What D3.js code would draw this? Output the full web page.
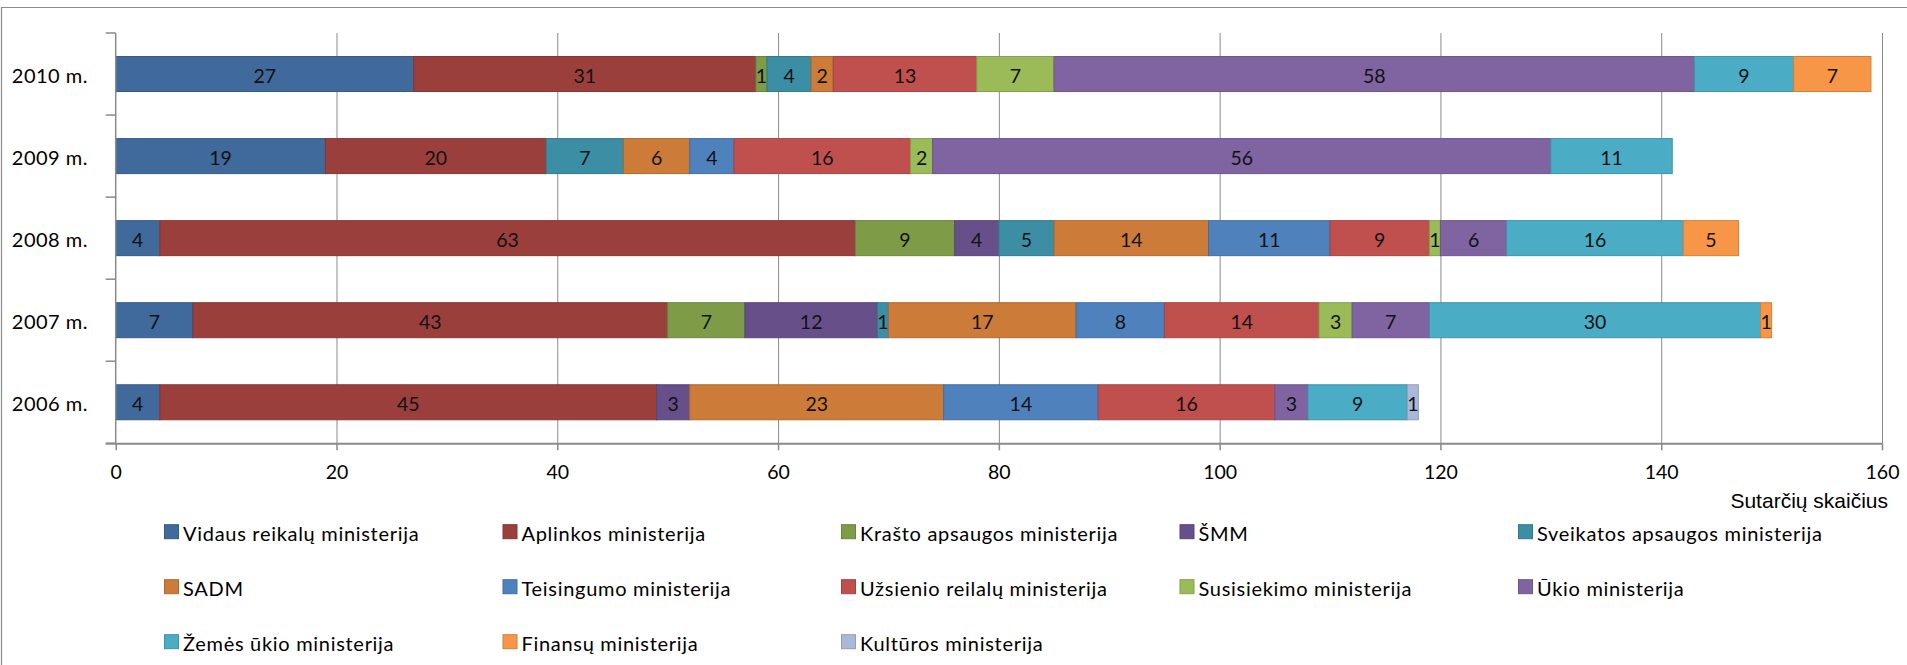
<!DOCTYPE html>
<html>
<head>
<meta charset="utf-8">
<script src="https://cdn.jsdelivr.net/npm/d3@7/dist/d3.min.js"></script>
<style>
  html, body { margin: 0; padding: 0; background: #fff; }
  svg { display: block; }
</style>
</head>
<body>
<svg id="chart" width="1907" height="665"></svg>
<script>
// ---- DATA ----
const categories = ["2010 m.", "2009 m.", "2008 m.", "2007 m.", "2006 m."];
const seriesNames = [
  "Vidaus reikalų ministerija", "Aplinkos ministerija", "Krašto apsaugos ministerija",
  "ŠMM", "Sveikatos apsaugos ministerija", "SADM", "Teisingumo ministerija",
  "Užsienio reilalų ministerija", "Susisiekimo ministerija", "Ūkio ministerija",
  "Žemės ūkio ministerija", "Finansų ministerija", "Kultūros ministerija"
];
// values aligned with categories (2010, 2009, 2008, 2007, 2006)
const vidaus      = [27, 19, 4, 7, 4];
const aplinkos    = [31, 20, 63, 43, 45];
const krasto      = [1, 0, 9, 7, 0];
const smm         = [0, 0, 4, 12, 3];
const sveikatos   = [4, 7, 5, 1, 0];
const sadm        = [2, 6, 14, 17, 23];
const teisingumo  = [0, 4, 11, 8, 14];
const uzsienio    = [13, 16, 9, 14, 16];
const susisiekimo = [7, 2, 1, 3, 0];
const ukio        = [58, 56, 6, 7, 3];
const zemes       = [9, 11, 16, 30, 9];
const finansu     = [7, 0, 5, 1, 0];
const kulturos    = [0, 0, 0, 0, 1];
const seriesValues = [vidaus, aplinkos, krasto, smm, sveikatos, sadm, teisingumo,
                      uzsienio, susisiekimo, ukio, zemes, finansu, kulturos];
const xTicks = [0, 20, 40, 60, 80, 100, 120, 140, 160];
const axisTitle = "Sutarčių skaičius";

// ---- STYLE ----
const colors = ["#40699C", "#9B3F3D", "#7E9C48", "#67508A", "#3C8EA5", "#CD7B38",
                "#4F81BD", "#C0504D", "#9BBB59", "#8064A2", "#4BACC6", "#F79646", "#AAB9D8"];
const FONT = "Lato, 'Open Sans', sans-serif";
const gridColor = "#8a8a8a";

const svg = d3.select("#chart");
const W = 1907, H = 665;
svg.append("rect").attr("width", W).attr("height", H).attr("fill", "#fff");

// chart border (top + left visible)
svg.append("path").attr("d", `M1.5,${H} V7.5 H${W}`)
  .attr("fill", "none").attr("stroke", "#8c8c8c").attr("stroke-width", 1.2);

const plot = { left: 115.7, right: 1882, top: 33, bottom: 443.3 };

const x = d3.scaleLinear().domain([0, 160]).range([plot.left, plot.right]);
const bandPad = 1 - 35 / ((plot.bottom - plot.top) / categories.length);
const y = d3.scaleBand().domain(categories).range([plot.top, plot.bottom])
  .paddingInner(bandPad).paddingOuter(bandPad / 2);

// gridlines
svg.append("g").selectAll("line").data(xTicks.slice(1)).join("line")
  .attr("x1", d => x(d) + 0.5).attr("x2", d => x(d) + 0.5)
  .attr("y1", plot.top).attr("y2", plot.bottom)
  .attr("stroke", gridColor).attr("stroke-width", 1);

// stacked data
const table = categories.map((c, i) => {
  const o = { cat: c };
  seriesNames.forEach((s, j) => o[s] = seriesValues[j][i]);
  return o;
});
const stacked = d3.stack().keys(seriesNames)(table);

const gBars = svg.append("g");
stacked.forEach((layer, j) => {
  const col = colors[j];
  const g = gBars.append("g");
  g.selectAll("rect").data(layer.filter(d => d[1] - d[0] > 0)).join("rect")
    .attr("x", d => x(d[0]))
    .attr("y", d => y(d.data.cat))
    .attr("width", d => x(d[1]) - x(d[0]))
    .attr("height", y.bandwidth())
    .attr("fill", col)
    .attr("stroke", d3.color(col).darker(0.45))
    .attr("stroke-width", 1);
  g.selectAll("text").data(layer.filter(d => d[1] - d[0] > 0)).join("text")
    .attr("x", d => (x(d[0]) + x(d[1])) / 2)
    .attr("y", d => y(d.data.cat) + y.bandwidth() / 2 + 1)
    .attr("text-anchor", "middle")
    .attr("dominant-baseline", "central")
    .attr("font-family", FONT).attr("font-size", 19.5)
    .attr("fill", "#111")
    .text(d => d[1] - d[0]);
});

// y axis line
svg.append("line")
  .attr("x1", plot.left).attr("x2", plot.left)
  .attr("y1", plot.top).attr("y2", plot.bottom)
  .attr("stroke", gridColor).attr("stroke-width", 1.5);

// category tick marks (band boundaries)
const bounds = categories.map(c => y(c) - (y.step() - y.bandwidth()) / 2).concat([plot.bottom]);
svg.append("g").selectAll("line").data(bounds).join("line")
  .attr("x1", plot.left - 10).attr("x2", plot.left)
  .attr("y1", d => d).attr("y2", d => d)
  .attr("stroke", gridColor).attr("stroke-width", 1.5);

// category labels
svg.append("g").selectAll("text").data(categories).join("text")
  .attr("x", 88).attr("y", d => y(d) + y.bandwidth() / 2 + 1)
  .attr("text-anchor", "end").attr("dominant-baseline", "central")
  .attr("font-family", FONT).attr("font-size", 20).attr("letter-spacing", 0.5).attr("fill", "#000")
  .text(d => d);

// x axis
const xAxis = d3.axisBottom(x).tickValues(xTicks).tickSize(7).tickSizeOuter(0).tickPadding(14);
const gx = svg.append("g").attr("transform", `translate(0,${plot.bottom})`).call(xAxis);
gx.select(".domain").attr("stroke", gridColor).attr("stroke-width", 2)
  .attr("d", `M${plot.left - 10},0.5H${plot.right}`);
gx.selectAll(".tick line").attr("stroke", gridColor).attr("stroke-width", 1.5);
gx.selectAll(".tick text").attr("font-family", FONT).attr("font-size", 19.5).attr("fill", "#000")
  .attr("dy", "0.75em");

// axis title
svg.append("text").attr("x", 1888).attr("y", 500)
  .attr("text-anchor", "end").attr("dominant-baseline", "central")
  .attr("font-family", "'Liberation Sans', Arial, sans-serif").attr("font-size", 21)
  .attr("fill", "#000").text(axisTitle);

// legend
const legend = svg.append("g");
seriesNames.forEach((s, i) => {
  const col = i % 5, row = Math.floor(i / 5);
  const lx = 164 + col * 338.5, ly = 531.7 + row * 55;
  legend.append("rect").attr("x", lx + 0.5).attr("y", ly - 7).attr("width", 14).attr("height", 14)
    .attr("fill", colors[i]).attr("stroke", d3.color(colors[i]).darker(0.45)).attr("stroke-width", 1);
  legend.append("text").attr("x", lx + 19).attr("y", ly + 1)
    .attr("dominant-baseline", "central")
    .attr("font-family", FONT).attr("font-size", 20).attr("letter-spacing", 0.7).attr("fill", "#000")
    .text(s);
});
</script>
</body>
</html>
